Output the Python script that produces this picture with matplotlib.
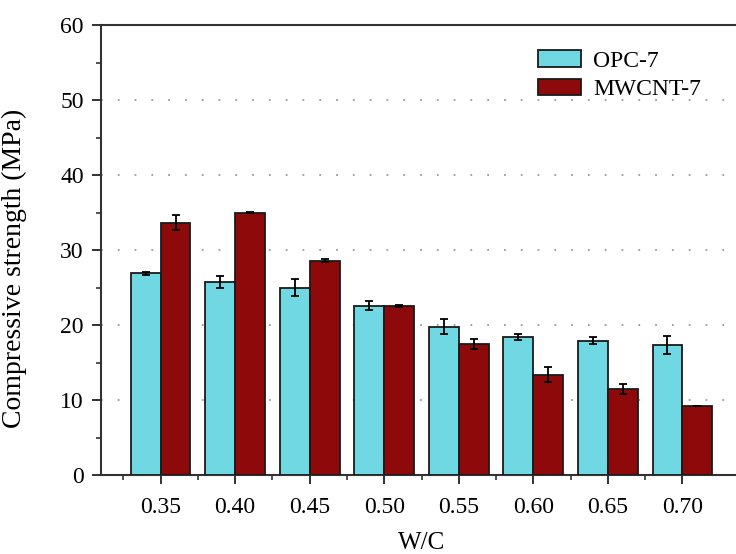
import matplotlib
matplotlib.use("Agg")
import matplotlib.pyplot as plt
import numpy as np
from matplotlib.ticker import MultipleLocator, FixedLocator

wc = [0.35, 0.40, 0.45, 0.50, 0.55, 0.60, 0.65, 0.70]
wc_labels = ["0.35", "0.40", "0.45", "0.50", "0.55", "0.60", "0.65", "0.70"]
opc = [26.9, 25.8, 25.0, 22.6, 19.8, 18.4, 17.9, 17.3]
opc_err = [0.2, 0.8, 1.1, 0.65, 1.0, 0.35, 0.45, 1.2]
mwcnt = [33.65, 35.0, 28.6, 22.55, 17.5, 13.4, 11.5, 9.25]
mwcnt_err = [1.0, 0.1, 0.15, 0.1, 0.7, 1.0, 0.65, 0.0]

plt.rcParams['font.family'] = ['Liberation Serif', 'DejaVu Serif']

fig = plt.figure(figsize=(7.36, 5.54), dpi=100)
W, H = 736, 554
ax = fig.add_axes([101 / W, (H - 475) / H, (742 - 101) / W, 450 / H])

x = np.array(wc)
bw = 0.02
cyan = '#70d8e3'
red = '#8e0a0a'
ax.bar(x - bw / 2, opc, bw, color=cyan, edgecolor='#1a1a1a', linewidth=1.3,
       label='OPC-7', zorder=3)
ax.bar(x + bw / 2, mwcnt, bw, color=red, edgecolor='#1a1a1a', linewidth=1.3,
       label='MWCNT-7', zorder=3)
ax.errorbar(x - bw / 2, opc, yerr=opc_err, fmt='none', ecolor='black',
            elinewidth=1.3, capsize=3, capthick=1.3, zorder=4)
ax.errorbar(x + bw / 2, mwcnt, yerr=mwcnt_err, fmt='none', ecolor='black',
            elinewidth=1.3, capsize=3, capthick=1.3, zorder=4)

ax.set_xlim(0.31, 0.74)
ax.set_ylim(0, 60)
ax.set_xticks(wc)
ax.set_xticklabels(wc_labels)
ax.xaxis.set_minor_locator(FixedLocator(np.array(wc) - 0.025))
ax.yaxis.set_major_locator(MultipleLocator(10))
ax.yaxis.set_minor_locator(MultipleLocator(5))

for yv in [10, 20, 30, 40, 50]:
    ax.axhline(yv, color='#9a9a9a', linewidth=1.3, linestyle=(0, (1, 8.3)), zorder=1)

ax.tick_params(axis='both', which='major', direction='out', length=6.5, width=1.3,
               labelsize=17, color='#222222')
ax.tick_params(axis='both', which='minor', direction='out', length=3.5, width=1.1,
               color='#222222')
ax.tick_params(axis='x', which='major', pad=9.5)
ax.tick_params(axis='y', which='major', pad=6)
for s in ['left', 'bottom', 'top']:
    ax.spines[s].set_linewidth(1.5)
    ax.spines[s].set_color('#333333')
ax.spines['right'].set_visible(False)

ax.set_ylabel('Compressive strength (MPa)', fontsize=20)
ax.yaxis.set_label_coords(-(101 - 27) / 641, (475 - 268) / 450)
ax.set_xlabel('W/C', fontsize=18, labelpad=10)

leg = ax.legend(loc='upper left', bbox_to_anchor=((538 - 101) / 641, (475 - 50) / 450),
                frameon=False, fontsize=17, handlelength=1.8, handleheight=0.7,
                handletextpad=0.55, labelspacing=0.3, borderaxespad=0, borderpad=0)

fig.savefig('out.png', dpi=100)
